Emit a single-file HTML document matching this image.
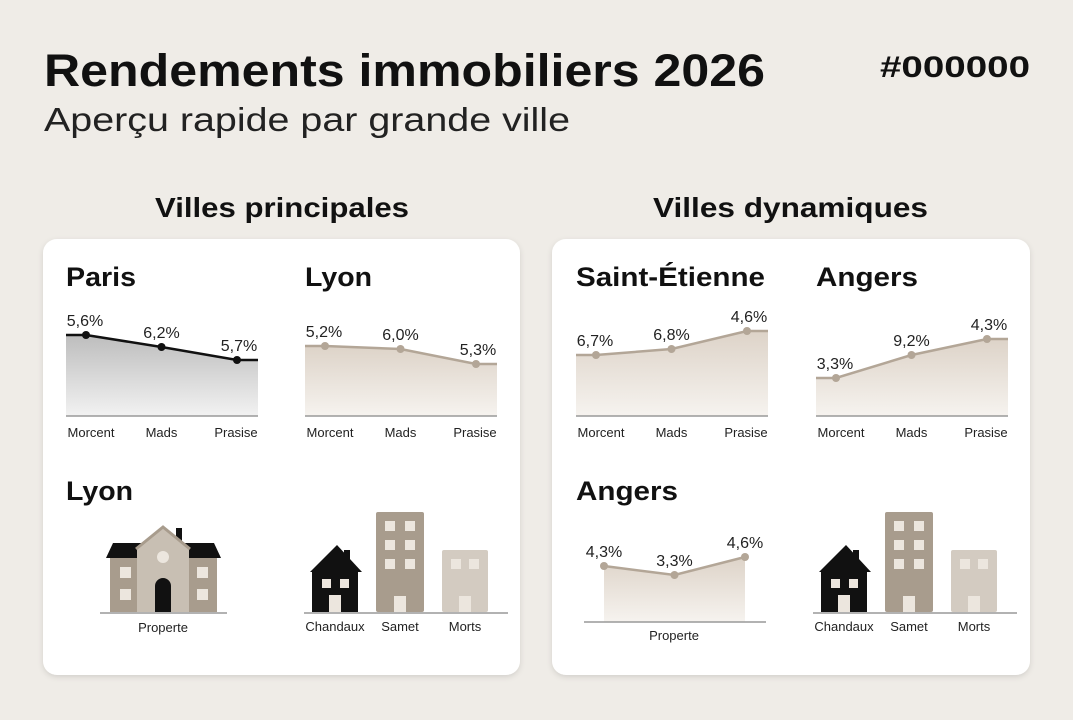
<!DOCTYPE html>
<html><head><meta charset="utf-8">
<style>
body{margin:0;width:1073px;height:720px;background:#efece7;font-family:"Liberation Sans",sans-serif;overflow:hidden}
svg{position:absolute;left:0;top:0}
</style></head><body>
<svg width="1073" height="720">
<defs>
<linearGradient id="gGray" x1="0" y1="0" x2="0" y2="1"><stop offset="0" stop-color="#bdbdbd"/><stop offset="1" stop-color="#f2f2f2"/></linearGradient>
<linearGradient id="gBeige" x1="0" y1="0" x2="0" y2="1"><stop offset="0" stop-color="#ddd3c8"/><stop offset="1" stop-color="#f6f3ef"/></linearGradient>
<filter id="sh" x="-5%" y="-5%" width="110%" height="110%"><feDropShadow dx="0" dy="2" stdDeviation="3" flood-color="#000" flood-opacity="0.12"/></filter>
</defs>
<text x="44" y="86" font-size="45" font-weight="bold" fill="#111" textLength="721" lengthAdjust="spacingAndGlyphs">Rendements immobiliers 2026</text>
<text x="44" y="131" font-size="33" fill="#222" textLength="526" lengthAdjust="spacingAndGlyphs">Aperçu rapide par grande ville</text>
<text x="880" y="77" font-size="30" font-weight="bold" fill="#111" textLength="150" lengthAdjust="spacingAndGlyphs">#000000</text>
<text x="155" y="217" font-size="28" font-weight="bold" fill="#111" textLength="254" lengthAdjust="spacingAndGlyphs">Villes principales</text>
<text x="653" y="217" font-size="28" font-weight="bold" fill="#111" textLength="275" lengthAdjust="spacingAndGlyphs">Villes dynamiques</text>
<rect x="43" y="239" width="477" height="436" rx="14" fill="#fff" filter="url(#sh)"/>
<rect x="552" y="239" width="478" height="436" rx="14" fill="#fff" filter="url(#sh)"/>
<g id="charts"></g>
<g id="icons"></g>
</svg>
<script>
const categories=["Morcent","Mads","Prasise"];
const parisValues=[8.1,6.9,5.6];
const parisLabels=["5,6%","6,2%","5,7%"];
const lyonValues=[7.0,6.7,5.2];
const lyonLabels=["5,2%","6,0%","5,3%"];
const steValues=[6.1,6.7,8.5];
const steLabels=["6,7%","6,8%","4,6%"];
const angersValues=[3.8,6.1,7.7];
const angersLabels=["3,3%","9,2%","4,3%"];
const angers2Values=[5.6,4.7,6.5];
const angers2Labels=["4,3%","3,3%","4,6%"];
const buildingCats=["Chandaux","Samet","Morts"];
const buildingHeights=[67,100,62];

const NS="http://www.w3.org/2000/svg";
function mk(tag,attrs,parent,txt){const e=document.createElementNS(NS,tag);for(const k in attrs)e.setAttribute(k,attrs[k]);if(txt!==undefined)e.textContent=txt;parent.appendChild(e);return e;}
const charts=document.getElementById('charts');

function miniChart(name,title,tw,x0,values,labels,dark){
  const g=mk('g',{},charts);
  
  
  const w=192,base=416;
  const yS=v=>base-v*10;
  const xS=i=>x0+20+i*75.5;
  const t=mk('text',{x:x0,y:286,'font-size':27,'font-weight':'bold',fill:'#111',textLength:tw,lengthAdjust:'spacingAndGlyphs'},g,title);
  
  
  let pts=[[x0,yS(values[0])]];
  values.forEach((v,i)=>pts.push([xS(i),yS(v)]));
  pts.push([x0+w,yS(values[values.length-1])]);
  const line=pts.map(p=>p.join(',')).join(' ');
  const area=mk('polygon',{points:line+' '+(x0+w)+','+base+' '+x0+','+base,fill:dark?'url(#gGray)':'url(#gBeige)'},g);
  
  
  mk('line',{x1:x0,x2:x0+w,y1:base,y2:base,stroke:'#999','stroke-width':1.5},g);
  const col=dark?'#111':'#b3a697';
  const pl=mk('polyline',{points:line,fill:'none',stroke:col,'stroke-width':2.5},g);
  
  
  values.forEach((v,i)=>{
    const c=mk('circle',{cx:xS(i),cy:yS(v),r:4,fill:col},g);
    
    
    const lx=i===0?x0+19:(i===2?x0+w-19:xS(i));
    const l=mk('text',{x:lx,y:yS(v)-9,'font-size':16,fill:'#222','text-anchor':'middle'},g,labels[i]);
    
    
    const cx=i===0?x0+25:(i===2?x0+w-22:xS(i));
    const cl=mk('text',{x:cx,y:437,'font-size':13,fill:'#222','text-anchor':'middle'},g,categories[i]);
    
    
  });
}
miniChart('paris-chart','Paris',70,66,parisValues,parisLabels,true);
miniChart('lyon-chart','Lyon',67,305,lyonValues,lyonLabels,false);
miniChart('saint-etienne-chart','Saint-Étienne',189,576,steValues,steLabels,false);
miniChart('angers-chart','Angers',102,816,angersValues,angersLabels,false);

(function(){
  const g=mk('g',{},charts);
  
  
  const base=622,yS=v=>base-v*10,xS=i=>604+i*70.5;
  const t=mk('text',{x:576,y:500,'font-size':27,'font-weight':'bold',fill:'#111',textLength:102,lengthAdjust:'spacingAndGlyphs'},g,'Angers');
  
  
  const pts=angers2Values.map((v,i)=>xS(i)+','+yS(v)).join(' ');
  mk('polygon',{points:pts+' '+xS(2)+','+base+' '+xS(0)+','+base,fill:'url(#gBeige)'},g);
  mk('line',{x1:584,x2:766,y1:base,y2:base,stroke:'#999','stroke-width':1.5},g);
  const pl=mk('polyline',{points:pts,fill:'none',stroke:'#b3a697','stroke-width':2.5},g);
  
  
  angers2Values.forEach((v,i)=>{
    const c=mk('circle',{cx:xS(i),cy:yS(v),r:4,fill:'#b3a697'},g);
    
    
    const l=mk('text',{x:xS(i),y:yS(v)-9,'font-size':16,fill:'#222','text-anchor':'middle'},g,angers2Labels[i]);
    
    
  });
  const cl=mk('text',{x:674,y:640,'font-size':13,fill:'#222','text-anchor':'middle'},g,'Properte');
  
  
})();

const icons=document.getElementById('icons');
(function(){
  const g=mk('g',{},icons);
  
  
  const t=mk('text',{x:66,y:500,'font-size':27,'font-weight':'bold',fill:'#111',textLength:67,lengthAdjust:'spacingAndGlyphs'},g,'Lyon');
  
  
  mk('rect',{x:110,y:555,width:30,height:57,fill:'#a89c8d'},g);
  mk('rect',{x:187,y:555,width:30,height:57,fill:'#a89c8d'},g);
  mk('polygon',{points:'106,558 113,543 150,543 150,558',fill:'#111'},g);
  mk('polygon',{points:'176,558 176,543 214,543 221,558',fill:'#111'},g);
  mk('rect',{x:176,y:528,width:6,height:18,fill:'#111'},g);
  mk('polygon',{points:'137,548 163,527 189,548 189,612 137,612',fill:'#c8bfb3'},g);
  mk('polyline',{points:'136,549 163,527 190,549',fill:'none',stroke:'#a89c8d','stroke-width':3},g);
  mk('circle',{cx:163,cy:557,r:6,fill:'#ece6de'},g);
  mk('path',{d:'M155,612 V586 a8,8 0 0 1 16,0 V612 Z',fill:'#111'},g);
  [[120,567],[120,589],[197,567],[197,589]].forEach(p=>mk('rect',{x:p[0],y:p[1],width:11,height:11,fill:'#ece6de'},g));
  mk('line',{x1:100,x2:227,y1:613,y2:613,stroke:'#999','stroke-width':1.5},g);
  const l=mk('text',{x:163,y:632,'font-size':13,fill:'#222','text-anchor':'middle'},g,'Properte');
  
  
})();

function buildings(prefix,x0){
  const g=mk('g',{},icons);
  
  
  const base=612,hS=v=>v;
  const xs=[x0+8,x0+72,x0+138],ws=[46,48,46],cols=['#111','#a89c8d','#d3cbc1'],cx=[x0+31,x0+96,x0+161];
  buildingCats.forEach((c,i)=>{
    const h=hS(buildingHeights[i]),top=base-h;
    if(i===0){
      const bt=base-42;
      const b=mk('rect',{x:xs[0],y:bt,width:ws[0],height:42,fill:'#111'},g);
      
      
      mk('polygon',{points:`${xs[0]-2},${bt+2} ${xs[0]+25},${top} ${xs[0]+50},${bt+2}`,fill:'#111'},g);
      mk('rect',{x:xs[0]+32,y:top+5,width:6,height:14,fill:'#111'},g);
      mk('rect',{x:xs[0]+10,y:bt+9,width:9,height:9,fill:'#ece6de'},g);
      mk('rect',{x:xs[0]+28,y:bt+9,width:9,height:9,fill:'#ece6de'},g);
      mk('rect',{x:xs[0]+17,y:base-17,width:12,height:17,fill:'#ece6de'},g);
    } else {
      const b=mk('rect',{x:xs[i],y:top,width:ws[i],height:h,rx:2,fill:cols[i]},g);
      
      
      const rows=Math.floor((h-25)/19);
      for(let r=0;r<rows;r++){
        mk('rect',{x:xs[i]+9,y:top+9+r*19,width:10,height:10,fill:'#ece6de'},g);
        mk('rect',{x:xs[i]+ws[i]-19,y:top+9+r*19,width:10,height:10,fill:'#ece6de'},g);
      }
      mk('rect',{x:xs[i]+ws[i]/2-6,y:base-16,width:12,height:16,fill:'#ece6de'},g);
    }
    const l=mk('text',{x:cx[i],y:631,'font-size':13,fill:'#222','text-anchor':'middle'},g,c);
    
    
  });
  mk('line',{x1:x0,x2:x0+204,y1:base+1,y2:base+1,stroke:'#999','stroke-width':1.5},g);
}
buildings('lyon',304);
buildings('angers',813);
</script>
</body></html>
